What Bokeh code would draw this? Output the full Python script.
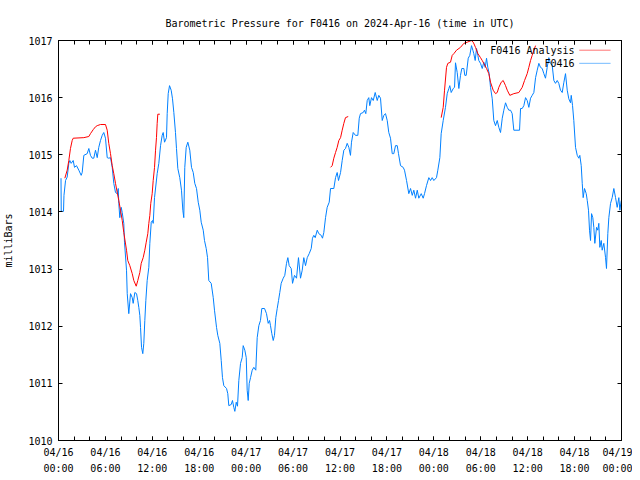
from bokeh.plotting import figure
from bokeh.models import FixedTicker, LinearAxis, Range1d, Label, BoxAnnotation
from bokeh.embed import file_html
from bokeh.resources import INLINE

# time axis: hours since 2024-04-16 00:00 UTC
tick_hours = [0, 6, 12, 18, 24, 30, 36, 42, 48, 54, 60, 66, 72]
tick_labels = ["04/16\n00:00", "04/16\n06:00", "04/16\n12:00", "04/16\n18:00",
               "04/17\n00:00", "04/17\n06:00", "04/17\n12:00", "04/17\n18:00",
               "04/18\n00:00", "04/18\n06:00", "04/18\n12:00", "04/18\n18:00",
               "04/19\n00:00"]
pressure_ticks = [1010, 1011, 1012, 1013, 1014, 1015, 1016, 1017]

# F0416 observations
obs_hours = [0.32, 0.35, 0.64, 0.70, 0.90, 1.11, 1.32, 1.45, 1.62, 1.88, 2.05, 2.30, 2.60, 2.90, 3.03,
             3.24, 3.67, 3.88, 4.09, 4.31, 4.51, 4.73, 4.95, 5.15, 5.37, 5.59, 5.79, 6.01, 6.23, 6.43,
             6.65, 6.87, 7.07, 7.29, 7.51, 7.64, 7.71, 7.84, 8.02, 8.15, 8.35, 8.44, 8.70, 8.79, 8.99,
             9.21, 9.43, 9.55, 9.76, 9.98, 10.14, 10.27, 10.40, 10.49, 10.62, 10.78, 10.91, 11.04, 11.17, 11.34,
             11.55, 11.68, 11.86, 12.02, 12.11, 12.28, 12.62, 12.83, 13.05, 13.26, 13.39, 13.56, 13.81, 13.90, 14.03,
             14.20, 14.41, 14.58, 14.75, 14.96, 15.09, 15.26, 15.51, 15.73, 15.90, 16.02, 16.15, 16.33, 16.54, 16.79,
             17.01, 17.23, 17.43, 17.65, 17.87, 18.07, 18.25, 18.51, 18.67, 18.89, 19.06, 19.22, 19.53, 19.79, 19.95,
             20.21, 20.37, 20.63, 20.81, 20.97, 21.14, 21.49, 21.65, 21.78, 22.09, 22.25, 22.42, 22.55, 22.73, 22.89,
             23.06, 23.28, 23.49, 23.62, 23.83, 24.01, 24.13, 24.26, 24.39, 24.56, 24.77, 24.98, 25.23, 25.41, 25.62,
             25.83, 26.00, 26.35, 26.60, 26.82, 26.99, 27.11, 27.28, 27.46, 27.62, 27.79, 27.97, 28.14, 28.30, 28.48,
             28.74, 28.94, 29.16, 29.33, 29.50, 29.76, 29.93, 30.18, 30.44, 30.69, 30.95, 31.17, 31.37, 31.59, 31.81,
             32.06, 32.32, 32.48, 32.65, 32.83, 33.09, 33.29, 33.60, 33.76, 33.93, 34.15, 34.36, 34.62, 34.79, 35.21,
             35.43, 35.64, 35.81, 36.07, 36.28, 36.49, 36.70, 36.92, 37.13, 37.34, 37.47, 37.69, 37.98, 38.28, 38.46,
             38.62, 38.97, 39.13, 39.30, 39.48, 39.68, 39.81, 40.03, 40.25, 40.50, 40.76, 40.96, 41.18, 41.40, 41.60,
             41.82, 42.04, 42.24, 42.46, 42.68, 42.88, 43.10, 43.32, 43.48, 43.74, 44.08, 44.25, 44.51, 44.80, 45.02,
             45.24, 45.44, 45.66, 45.88, 46.08, 46.39, 46.64, 46.81, 47.06, 47.36, 47.58, 47.79, 48.00, 48.34, 48.51,
             48.77, 48.94, 49.20, 49.49, 49.71, 49.92, 50.04, 50.22, 50.48, 50.65, 50.77, 50.99, 51.20, 51.41, 51.58,
             51.84, 51.96, 52.14, 52.40, 52.60, 52.82, 52.99, 53.11, 53.29, 53.46, 53.63, 53.75, 53.97, 54.19, 54.39,
             54.57, 54.74, 54.90, 55.08, 55.25, 55.47, 55.67, 55.89, 56.11, 56.31, 56.53, 56.75, 56.95, 57.17, 57.39,
             57.59, 57.81, 58.02, 58.23, 58.96, 59.09, 59.30, 59.51, 59.73, 59.94, 60.15, 60.37, 60.58, 60.79, 61.01,
             61.22, 61.43, 61.64, 61.86, 62.07, 62.28, 62.50, 62.71, 62.92, 63.14, 63.35, 63.56, 63.78, 63.98, 64.20,
             64.42, 64.62, 64.84, 65.06, 65.26, 65.48, 65.57, 65.74, 65.90, 66.12, 66.34, 66.54, 66.67, 66.85, 66.98,
             67.10, 67.27, 67.49, 67.62, 67.78, 67.91, 68.04, 68.17, 68.33, 68.46, 68.59, 68.81, 68.97, 69.10, 69.23,
             69.41, 69.53, 69.74, 69.96, 70.08, 70.25, 70.38, 70.60, 70.81, 71.02, 71.24, 71.45, 71.66, 71.79, 71.97]
obs_mb = [1014.59, 1014.01, 1014.01, 1014.29, 1014.55, 1014.61, 1014.85, 1014.90, 1014.85, 1014.90, 1014.78, 1014.81, 1014.73, 1014.64, 1014.69,
          1014.99, 1015.02, 1015.11, 1014.99, 1014.94, 1014.94, 1015.08, 1014.95, 1015.13, 1015.25, 1015.34, 1015.39, 1015.29, 1014.95, 1014.94,
          1014.95, 1014.78, 1014.50, 1014.34, 1014.32, 1014.41, 1014.15, 1013.90, 1014.08, 1013.99, 1013.80, 1013.47, 1012.98, 1012.57, 1012.22,
          1012.57, 1012.50, 1012.40, 1012.59, 1012.57, 1012.45, 1012.33, 1012.19, 1011.98, 1011.63, 1011.52, 1011.70, 1012.10, 1012.45, 1012.80,
          1013.03, 1013.45, 1013.82, 1013.85, 1013.80, 1014.25, 1014.67, 1014.85, 1015.16, 1015.34, 1015.39, 1015.22, 1015.30, 1015.72, 1016.07,
          1016.21, 1016.13, 1015.98, 1015.74, 1015.39, 1015.11, 1014.76, 1014.60, 1014.38, 1014.03, 1013.90, 1014.78, 1015.13, 1015.22, 1015.08,
          1014.78, 1014.69, 1014.50, 1014.41, 1014.17, 1014.03, 1013.82, 1013.68, 1013.50, 1013.36, 1013.20, 1012.80, 1012.75, 1012.50, 1012.28,
          1011.98, 1011.84, 1011.70, 1011.40, 1011.10, 1010.96, 1010.91, 1010.82, 1010.61, 1010.63, 1010.70, 1010.58, 1010.51, 1010.67, 1010.60,
          1011.05, 1011.35, 1011.45, 1011.66, 1011.58, 1011.45, 1010.88, 1010.70, 1011.00, 1011.10, 1011.23, 1011.28, 1011.23, 1011.80, 1012.01,
          1012.10, 1012.31, 1012.31, 1012.22, 1012.05, 1012.10, 1012.01, 1011.87, 1011.75, 1011.84, 1012.15, 1012.31, 1012.45, 1012.59, 1012.75,
          1012.84, 1012.89, 1013.10, 1013.20, 1013.06, 1013.01, 1012.75, 1012.89, 1012.84, 1013.20, 1012.84, 1012.98, 1013.20, 1013.06, 1013.20,
          1013.27, 1013.36, 1013.54, 1013.59, 1013.55, 1013.68, 1013.62, 1013.59, 1013.54, 1013.64, 1013.90, 1014.08, 1014.17, 1014.41, 1014.41,
          1014.60, 1014.69, 1014.55, 1014.69, 1014.90, 1015.08, 1015.11, 1015.20, 1015.13, 1014.99, 1015.22, 1015.39, 1015.34, 1015.34, 1015.64,
          1015.72, 1015.74, 1015.78, 1015.72, 1015.95, 1016.00, 1015.86, 1016.00, 1015.95, 1016.09, 1015.95, 1016.04, 1015.99, 1015.60, 1015.69,
          1015.72, 1015.60, 1015.39, 1015.29, 1015.02, 1015.02, 1015.16, 1015.16, 1015.02, 1014.81, 1014.78, 1014.73, 1014.55, 1014.32, 1014.41,
          1014.29, 1014.38, 1014.24, 1014.38, 1014.24, 1014.32, 1014.24, 1014.32, 1014.46, 1014.60, 1014.55, 1014.60, 1014.55, 1014.60, 1014.73,
          1014.95, 1015.37, 1015.60, 1015.83, 1016.07, 1016.16, 1016.21, 1016.09, 1016.16, 1016.18, 1016.61, 1016.44, 1016.16, 1016.39, 1016.51,
          1016.51, 1016.39, 1016.39, 1016.69, 1016.74, 1016.91, 1016.83, 1016.77, 1016.65, 1016.86, 1016.74, 1016.65, 1016.60, 1016.51, 1016.62,
          1016.53, 1016.69, 1016.53, 1016.42, 1016.18, 1015.98, 1015.60, 1015.51, 1015.60, 1015.48, 1015.39, 1015.64, 1015.78, 1015.91, 1015.83,
          1015.78, 1015.78, 1015.72, 1015.43, 1015.43, 1015.81, 1015.81, 1015.86, 1016.00, 1015.95, 1015.83, 1015.99, 1016.04, 1016.09, 1016.35,
          1016.48, 1016.60, 1016.53, 1016.51, 1016.42, 1016.34, 1016.53, 1016.70, 1016.60, 1016.56, 1016.30, 1016.25, 1016.30, 1016.25, 1016.13,
          1016.09, 1016.26, 1016.42, 1016.13, 1015.98, 1015.91, 1016.04, 1015.86, 1015.60, 1015.13, 1014.99, 1014.94, 1014.99, 1014.81, 1014.50,
          1014.25, 1014.41, 1014.32, 1014.20, 1014.03, 1013.68, 1013.50, 1013.97, 1013.90, 1013.73, 1013.45, 1013.73, 1013.68, 1013.80, 1013.38,
          1013.50, 1013.33, 1013.45, 1013.20, 1013.01, 1013.62, 1013.90, 1014.15, 1014.25, 1014.41, 1014.25, 1014.08, 1014.25, 1014.03, 1014.20]

# F0416 Analysis (three separate runs)
ana1_hours = [0.81, 1.11, 1.32, 1.53, 1.75, 1.88, 3.24, 3.88, 4.09, 4.44, 4.73, 4.95, 5.37, 6.01, 6.23,
              6.43, 6.65, 6.87, 7.07, 7.29, 7.51, 7.71, 7.93, 8.15, 8.35, 8.70, 8.86, 9.12, 9.43, 9.63,
              9.94, 10.14, 10.40, 10.58, 10.83, 11.04, 11.22, 11.42, 11.55, 11.68, 11.80, 11.98, 12.11, 12.28, 12.41,
              12.53, 12.62, 12.70, 12.96]
ana1_mb = [1014.59, 1014.73, 1014.90, 1015.11, 1015.25, 1015.29, 1015.30, 1015.32, 1015.37, 1015.44, 1015.49, 1015.51, 1015.53, 1015.53, 1015.43,
           1015.20, 1015.02, 1014.81, 1014.67, 1014.50, 1014.34, 1014.20, 1014.03, 1013.85, 1013.64, 1013.33, 1013.15, 1013.06, 1012.92, 1012.80,
           1012.70, 1012.80, 1012.94, 1013.10, 1013.20, 1013.33, 1013.47, 1013.62, 1013.80, 1013.94, 1014.15, 1014.32, 1014.55, 1014.78, 1015.08,
           1015.30, 1015.55, 1015.71, 1015.71]
ana2_hours = [34.79, 35.00, 35.21, 35.43, 35.64, 35.85, 36.07, 36.28, 36.49, 36.70, 37.05]
ana2_mb = [1014.78, 1014.81, 1014.94, 1015.04, 1015.13, 1015.25, 1015.30, 1015.43, 1015.55, 1015.65, 1015.67]
ana3_hours = [48.94, 49.20, 49.37, 49.62, 49.79, 50.13, 50.35, 50.56, 50.90, 51.41, 51.84, 52.27, 52.79, 53.04, 53.33,
              53.63, 53.97, 54.19, 54.39, 54.74, 55.03, 55.25, 55.59, 55.89, 56.11, 56.31, 56.62, 56.87, 57.17, 57.39,
              57.72, 58.23, 58.87, 59.30, 59.60, 59.94, 60.15, 60.37, 60.58, 60.79, 61.01]
ana3_mb = [1015.65, 1015.83, 1016.13, 1016.53, 1016.60, 1016.62, 1016.74, 1016.77, 1016.83, 1016.88, 1016.95, 1016.97, 1017.00, 1016.97, 1016.88,
           1016.77, 1016.70, 1016.65, 1016.60, 1016.51, 1016.42, 1016.27, 1016.13, 1016.07, 1016.09, 1016.18, 1016.27, 1016.30, 1016.21, 1016.13,
           1016.04, 1016.07, 1016.09, 1016.18, 1016.30, 1016.42, 1016.53, 1016.65, 1016.74, 1016.83, 1016.91]

RED = "#ff0000"
BLUE = "#0080ff"
FONT = "DejaVu Sans Mono"
FS = "10px"

p = figure(frame_width=563, frame_height=400, output_backend="svg", toolbar_location=None,
           x_range=Range1d(0, 72), y_range=Range1d(1010, 1017),
           min_border_left=50, min_border_right=11, min_border_top=40, min_border_bottom=24,
           title="Barometric Pressure for F0416 on 2024-Apr-16 (time in UTC)")
p.title.align = "center"
p.title.text_font = FONT
p.title.text_font_size = FS
p.title.text_font_style = "normal"
p.title.text_color = "black"
p.title.standoff = 23
p.xgrid.visible = False
p.ygrid.visible = False
p.outline_line_color = "black"
p.outline_line_width = 1
p.background_fill_color = "white"
p.border_fill_color = "white"

xt = FixedTicker(ticks=tick_hours, minor_ticks=list(range(0, 73, 2)))
yt = FixedTicker(ticks=pressure_ticks, minor_ticks=[])

def style_axis(ax, ticker):
    ax.ticker = ticker
    ax.axis_line_color = "black"
    ax.major_tick_in = 4
    ax.major_tick_out = 0
    ax.minor_tick_in = 4
    ax.minor_tick_out = 0
    ax.major_tick_line_color = "black"
    ax.minor_tick_line_color = "black"
    ax.major_label_text_font = FONT
    ax.major_label_text_font_size = FS
    ax.major_label_text_color = "black"
    ax.axis_label_text_font = FONT
    ax.axis_label_text_font_size = FS
    ax.axis_label_text_font_style = "normal"
    ax.axis_label_text_color = "black"

style_axis(p.xaxis[0], xt)
p.xaxis[0].major_label_overrides = {h: lab for h, lab in zip(tick_hours, tick_labels)}
p.xaxis[0].major_label_standoff = 6
p.xaxis[0].major_label_text_line_height = 1.5
style_axis(p.yaxis[0], yt)
p.yaxis[0].axis_label = "milliBars"
p.yaxis[0].major_label_standoff = 6
p.yaxis[0].axis_label_standoff = 11

top_ax = LinearAxis()
style_axis(top_ax, xt)
top_ax.major_label_overrides = {h: "" for h in tick_hours}
top_ax.major_label_standoff = 0
p.add_layout(top_ax, "above")
right_ax = LinearAxis()
style_axis(right_ax, yt)
right_ax.major_label_overrides = {v: "" for v in pressure_ticks}
right_ax.major_label_standoff = 0
p.add_layout(right_ax, "right")

p.line(obs_hours, obs_mb, line_color=BLUE, line_width=1)
p.line(ana1_hours, ana1_mb, line_color=RED, line_width=1)
p.line(ana2_hours, ana2_mb, line_color=RED, line_width=1)
p.line(ana3_hours, ana3_mb, line_color=RED, line_width=1)

# key (text left, sample right, as in the original)
p.add_layout(Label(x=66.0, y=1016.83, text="F0416 Analysis", text_align="right", text_baseline="middle",
                   text_font=FONT, text_font_size=FS, text_color="black"))
p.add_layout(Label(x=66.0, y=1016.60, text="F0416", text_align="right", text_baseline="middle",
                   text_font=FONT, text_font_size=FS, text_color="black"))
p.add_layout(BoxAnnotation(left=66.6, right=70.6, bottom=1016.83, top=1016.83, fill_alpha=0,
                           line_color=RED, line_width=1))
p.add_layout(BoxAnnotation(left=66.6, right=70.6, bottom=1016.60, top=1016.60, fill_alpha=0,
                           line_color=BLUE, line_width=1))

open("out.html", "w").write(file_html(p, INLINE))
